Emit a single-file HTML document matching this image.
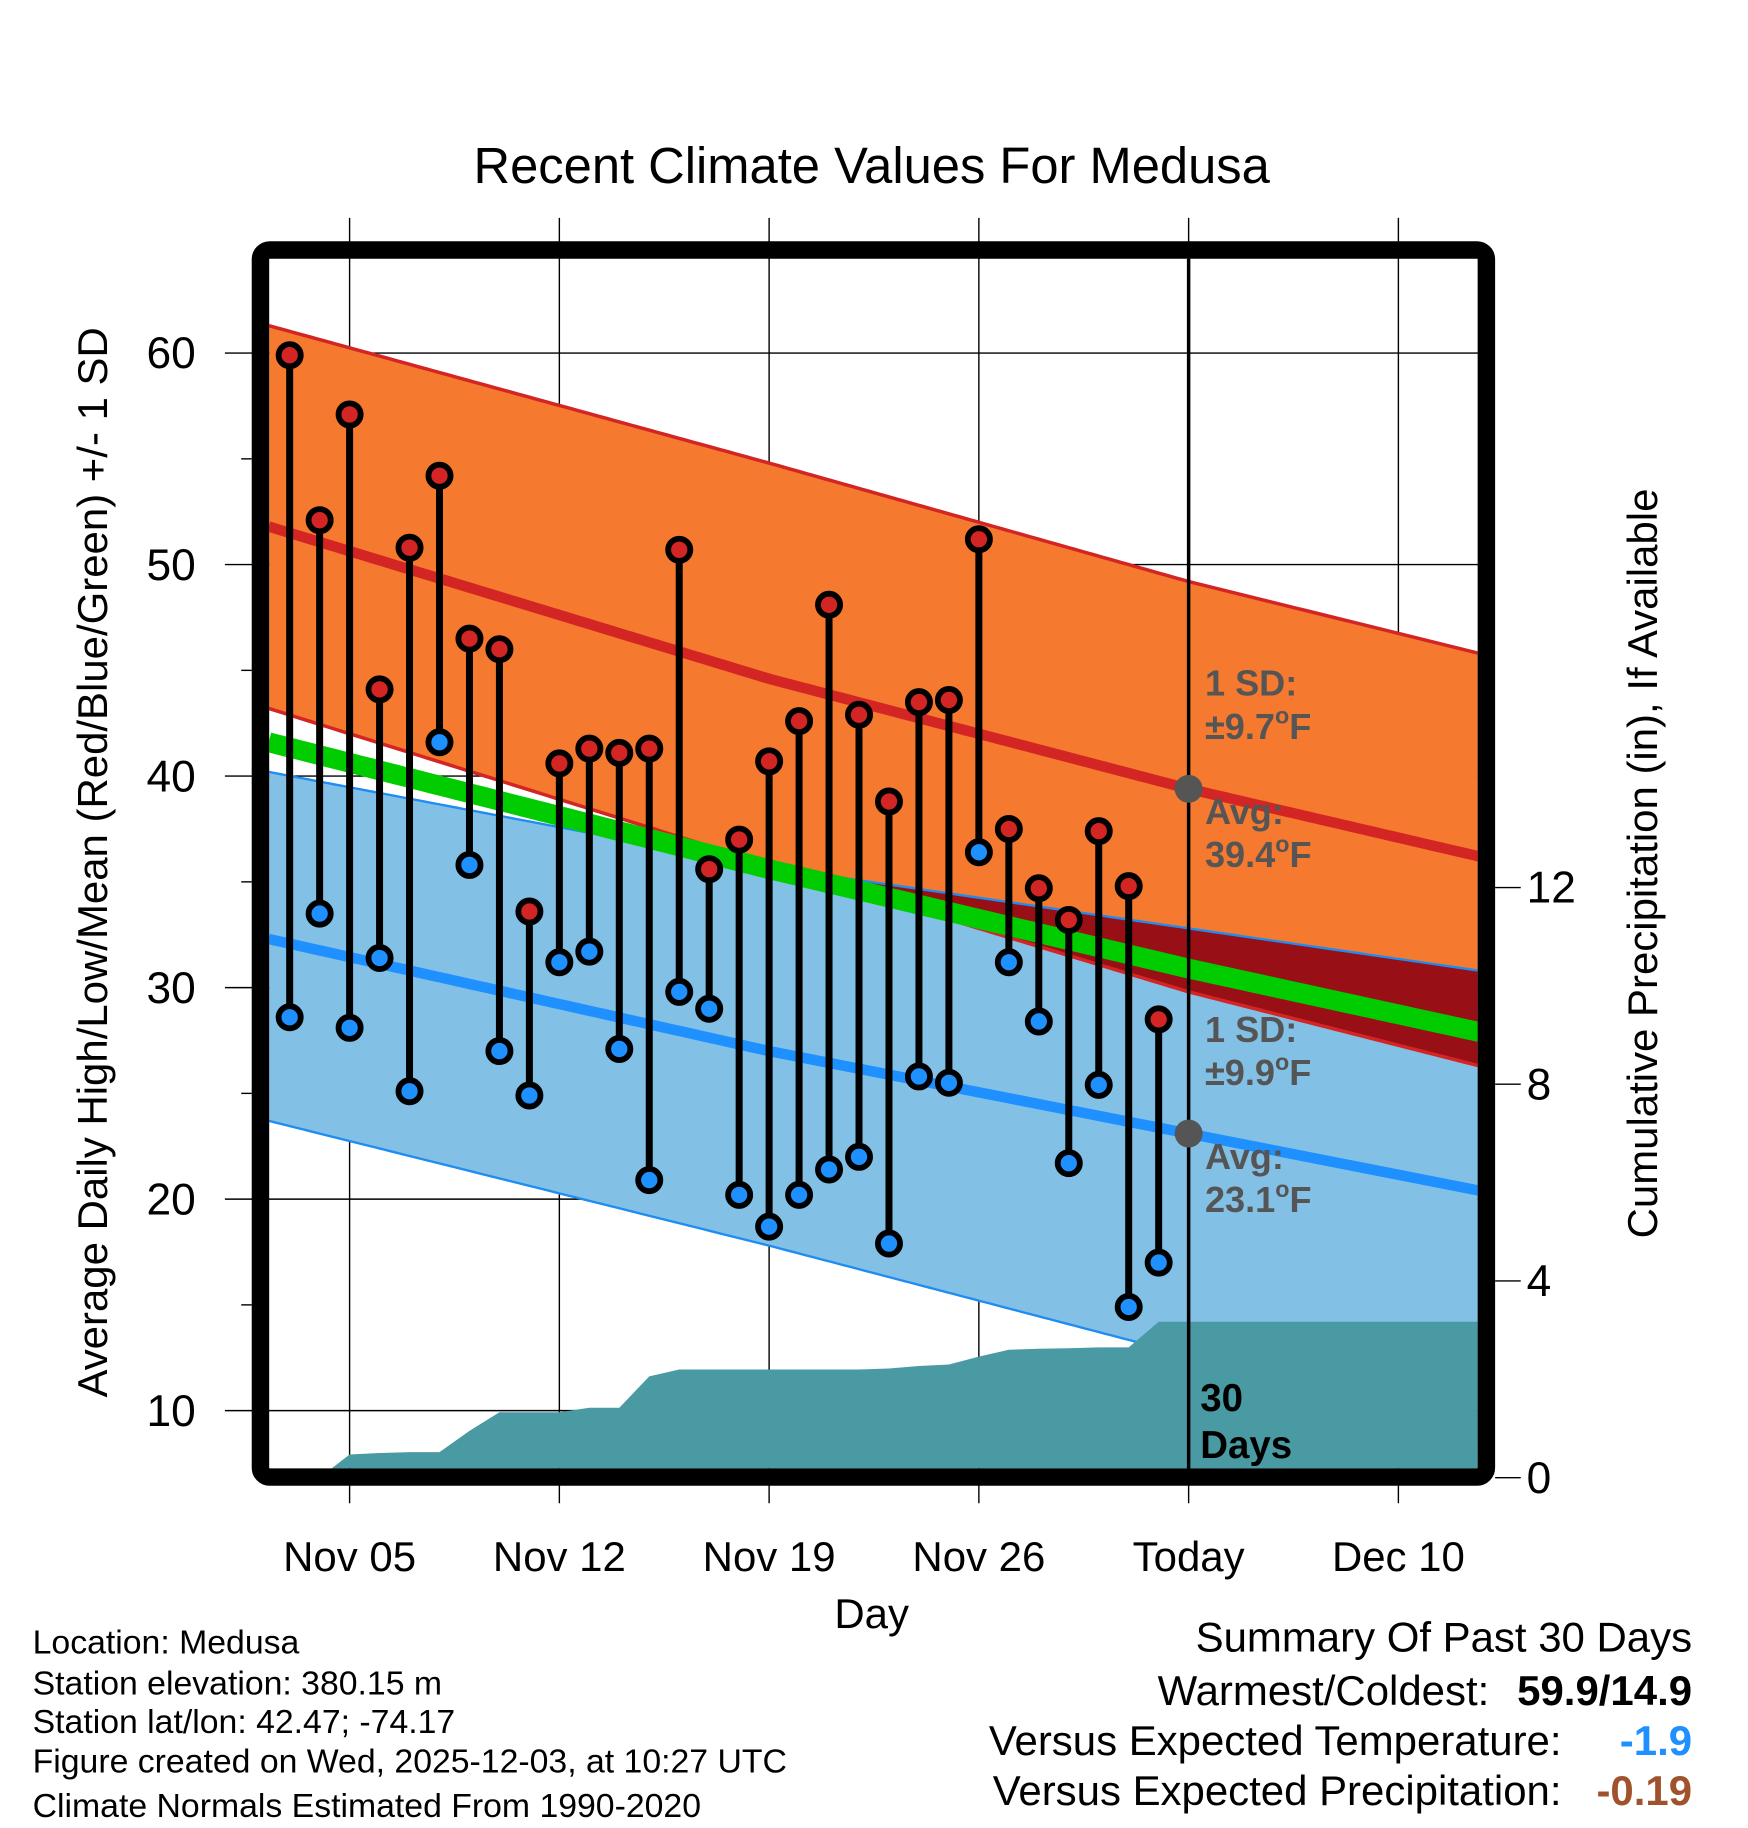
<!DOCTYPE html>
<html><head><meta charset="utf-8"><style>
html,body{margin:0;padding:0;background:#fff}
svg{display:block;font-family:"Liberation Sans",sans-serif}
</style></head><body>
<svg id="chart" width="1748" height="1828" viewBox="0 0 1500 1568.65" xmlns="http://www.w3.org/2000/svg">
<defs><clipPath id="plotclip"><rect x="231" y="222" width="1037" height="1038"/></clipPath></defs>
<text x="748" y="157" font-size="43.5" text-anchor="middle">Recent Climate Values For Medusa</text>
<g id="grid"></g>
<g id="plot" clip-path="url(#plotclip)"></g>
<g id="marks"></g>
<rect x="223.5" y="214.5" width="1052" height="1053" rx="8" fill="none" stroke="#000" stroke-width="15"/>
<g id="axes"></g>
<text transform="translate(92,740) rotate(-90)" font-size="36" text-anchor="middle">Average Daily High/Low/Mean (Red/Blue/Green) +/- 1 SD</text>
<text transform="translate(1422,741) rotate(-90)" font-size="36" text-anchor="middle">Cumulative Precipitation (in), If Available</text>
<text x="748" y="1397" font-size="36" text-anchor="middle">Day</text>
<g font-size="31" font-weight="bold" fill="#555">
<text x="1034" y="597">1 SD:</text>
<text x="1034" y="634">±9.7<tspan font-size="20" dy="-13">o</tspan><tspan dy="13">F</tspan></text>
<text x="1034" y="707">Avg:</text>
<text x="1034" y="744">39.4<tspan font-size="20" dy="-13">o</tspan><tspan dy="13">F</tspan></text>
<text x="1034" y="894">1 SD:</text>
<text x="1034" y="931">±9.9<tspan font-size="20" dy="-13">o</tspan><tspan dy="13">F</tspan></text>
<text x="1034" y="1003">Avg:</text>
<text x="1034" y="1040">23.1<tspan font-size="20" dy="-13">o</tspan><tspan dy="13">F</tspan></text>
<text x="1030" y="1211" fill="#000" font-size="33">30</text>
<text x="1030" y="1251" fill="#000" font-size="33">Days</text>
</g>
<g font-size="29">
<text x="28" y="1419">Location: Medusa</text>
<text x="28" y="1454">Station elevation: 380.15 m</text>
<text x="28" y="1487">Station lat/lon: 42.47; -74.17</text>
<text x="28" y="1521">Figure created on Wed, 2025-12-03, at 10:27 UTC</text>
<text x="28" y="1559">Climate Normals Estimated From 1990-2020</text>
</g>
<g font-size="36" text-anchor="end">
<text x="1452" y="1417">Summary Of Past 30 Days</text>
<text x="1278" y="1463">Warmest/Coldest:</text>
<text x="1452" y="1463" font-weight="bold">59.9/14.9</text>
<text x="1340" y="1506">Versus Expected Temperature:</text>
<text x="1452" y="1506" font-weight="bold" fill="#1e90ff">-1.9</text>
<text x="1340" y="1549">Versus Expected Precipitation:</text>
<text x="1452" y="1549" font-weight="bold" fill="#a0522d">-0.19</text>
</g>
</svg>
<script>
// day index: 0 = Nov 01
const days = [2,3,4,5,6,7,8,9,10,11,12,13,14,15,16,17,18,19,20,21,22,23,24,25,26,27,28,29,30,31];
const highs = [59.9,52.1,57.1,44.1,50.8,54.2,46.5,46.0,33.6,40.6,41.3,41.1,41.3,50.7,35.6,37.0,40.7,42.6,48.1,42.9,38.8,43.5,43.6,51.2,37.5,34.7,33.2,37.4,34.8,28.5];
const lows = [28.6,33.5,28.1,31.4,25.1,41.6,35.8,27.0,24.9,31.2,31.7,27.1,20.9,29.8,29.0,20.2,18.7,20.2,21.4,22.0,17.9,25.8,25.5,36.4,31.2,28.4,21.7,25.4,14.9,17.0];
const precipCum = [0,0,0.47,0.5,0.52,0.52,0.95,1.33,1.33,1.33,1.42,1.42,2.06,2.2,2.2,2.2,2.2,2.2,2.2,2.2,2.22,2.27,2.3,2.46,2.6,2.62,2.63,2.65,2.65,3.17];
const normDays = [1.3,18,32,41.7];
const highUpper = [61.3,54.8,49.2,45.8];
const highAvg = [51.8,44.6,39.4,36.2];
const highLower = [43.2,35.8,29.8,26.3];
const meanAvg = [41.6,35.6,30.9,27.9];
const lowUpper = [40.2,35.7,32.8,30.8];
const lowAvg = [32.3,27.0,23.1,20.4];
const lowLower = [23.7,17.8,12.6,8.5];
const xTickDays = [4,11,18,25,32,39];
const xTickLabels = ["Nov 05","Nov 12","Nov 19","Nov 26","Today","Dec 10"];
const yTicks = [10,20,30,40,50,60];
const yMinor = [15,25,35,45,55];
const pTicks = [0,4,8,12];
const todayDay = 32;
const todayHigh = 39.4, todayLow = 23.1;

const NS="http://www.w3.org/2000/svg";
const X = d => 300 + (d-4)*25.714;
const Y = v => 303 + (60-v)*18.15;
const P = v => 1268 - v*42.2;
function mk(parent, tag, attrs){const e=document.createElementNS(NS,tag);for(const k in attrs)e.setAttribute(k,attrs[k]);parent.appendChild(e);return e;}
const grid=document.getElementById('grid'), plot=document.getElementById('plot'), marks=document.getElementById('marks'), axes=document.getElementById('axes');

xTickDays.forEach((d,i)=>{
  const l=mk(grid,'line',{x1:X(d),x2:X(d),y1:187,y2:1290,stroke:'#000','stroke-width':1.2});
  
  
  const t=mk(axes,'text',{x:X(d),y:1348,'font-size':36,'text-anchor':'middle'});
  t.textContent=xTickLabels[i];
  
  
});
yTicks.forEach(v=>{
  const l=mk(grid,'line',{x1:193,x2:1270,y1:Y(v),y2:Y(v),stroke:'#000','stroke-width':1.2});
  
  
  const t=mk(axes,'text',{x:168,y:Y(v)+13,'font-size':38,'text-anchor':'end'});
  t.textContent=v;
  
  
});
yMinor.forEach(v=>{
  const l=mk(axes,'line',{x1:207,x2:216,y1:Y(v),y2:Y(v),stroke:'#000','stroke-width':1.2});
  
  
});
pTicks.forEach(v=>{
  const l=mk(axes,'line',{x1:1283,x2:1305,y1:P(v),y2:P(v),stroke:'#000','stroke-width':1.2});
  
  
  const t=mk(axes,'text',{x:1310,y:P(v)+13,'font-size':38});
  t.textContent=v;
  
  
});

function interp(arr,d){
  for(let i=0;i<normDays.length-1;i++){
    if(d<=normDays[i+1]||i===normDays.length-2){
      const t=(d-normDays[i])/(normDays[i+1]-normDays[i]);
      return arr[i]+(arr[i+1]-arr[i])*t;
    }
  }
}
const N=200;
const samp=[];for(let i=0;i<=N;i++)samp.push(normDays[0]+(normDays[normDays.length-1]-normDays[0])*i/N);
function pathOf(arr){return samp.map(d=>`${X(d)},${Y(interp(arr,d))}`).join(' ');}
function band(up,lo,fill,name){
  const pts=samp.map(d=>`${X(d)},${Y(interp(up,d))}`).concat(samp.slice().reverse().map(d=>`${X(d)},${Y(interp(lo,d))}`)).join(' ');
  const p=mk(plot,'polygon',{points:pts,fill:fill});
  
  
}
band(lowUpper,lowLower,'#82c0e6','low-sd-band');
band(highUpper,highLower,'#f5792e','high-sd-band');
// overlap region (low upper above high lower)
(function(){
  const ov=samp.filter(d=>interp(lowUpper,d)>interp(highLower,d));
  if(ov.length>1){
    const pts=ov.map(d=>`${X(d)},${Y(interp(lowUpper,d))}`).concat(ov.slice().reverse().map(d=>`${X(d)},${Y(interp(highLower,d))}`)).join(' ');
    const p=mk(plot,'polygon',{points:pts,fill:'#990f16'});
    
    
  }
})();
function line(arr,color,w,name){
  const l=mk(plot,'polyline',{points:pathOf(arr),fill:'none',stroke:color,'stroke-width':w});
  
  
}
line(highUpper,'#d42525',3,'high-upper-line');
line(highLower,'#d42525',3,'high-lower-line');
line(lowUpper,'#1e8cf0',2,'low-upper-line');
line(lowLower,'#1e8cf0',2,'low-lower-line');
line(meanAvg,'#00cc00',17,'mean-line');
line(highAvg,'#d42525',9,'high-avg-line');
line(lowAvg,'#1e90ff',9,'low-avg-line');

let pts=`${X(normDays[0])},1268 `;
days.forEach((d,i)=>{pts+=`${X(d)},${P(precipCum[i])} `;});
const xr=X(normDays[normDays.length-1]);
pts+=`${xr},${P(precipCum[precipCum.length-1])} ${xr},1268`;
const pa=mk(plot,'polygon',{points:pts,fill:'#4a9aa3'});



const tl=mk(marks,'line',{x1:X(todayDay),x2:X(todayDay),y1:222,y2:1260,stroke:'#000','stroke-width':3});


[todayHigh,todayLow].forEach(v=>{
  const c=mk(marks,'circle',{cx:X(todayDay),cy:Y(v),r:12,fill:'#555'});
  
  
});

days.forEach((d,i)=>{
  const s=mk(marks,'line',{x1:X(d),x2:X(d),y1:Y(highs[i]),y2:Y(lows[i]),stroke:'#000','stroke-width':6});
  
  
  const h=mk(marks,'circle',{cx:X(d),cy:Y(highs[i]),r:9.5,fill:'#d42525',stroke:'#000','stroke-width':5});
  
  
  const lo=mk(marks,'circle',{cx:X(d),cy:Y(lows[i]),r:9.5,fill:'#1e90ff',stroke:'#000','stroke-width':5});
  
  
});
</script>
</body></html>
